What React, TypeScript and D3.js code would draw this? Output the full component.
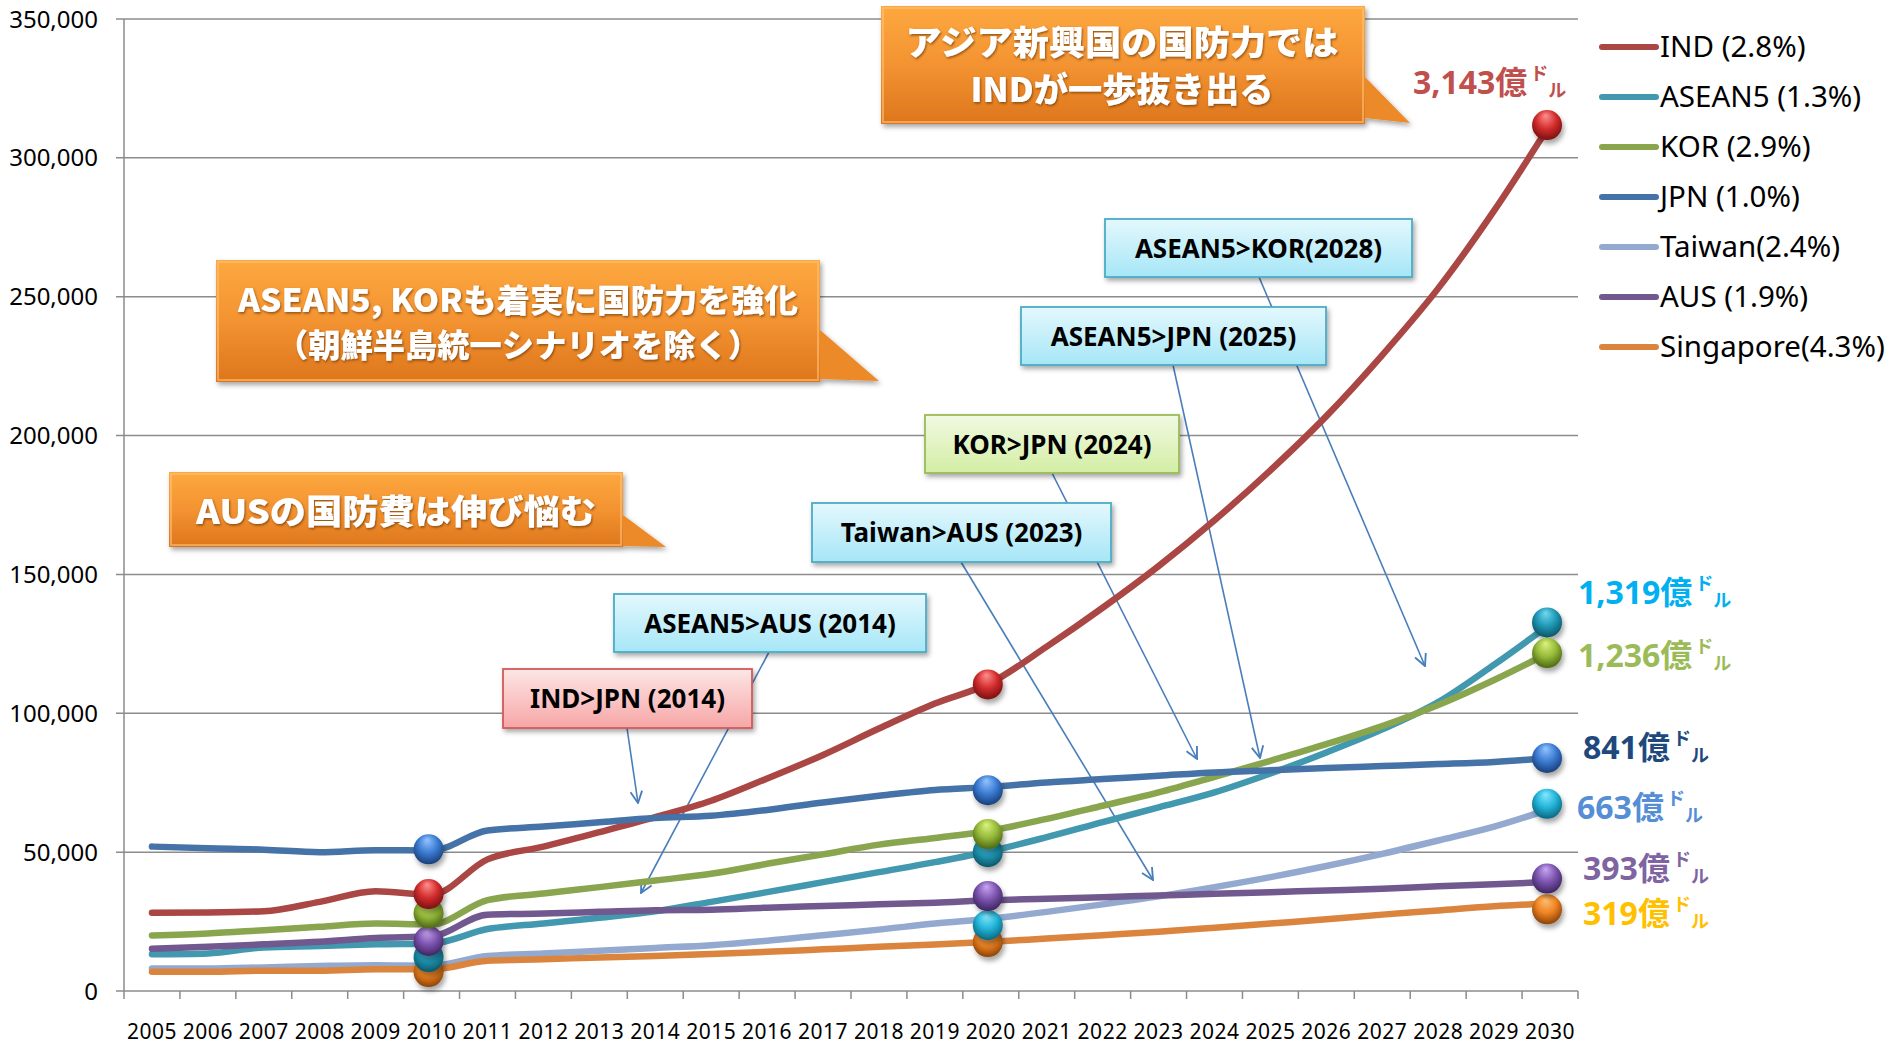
import React from 'react';
import * as d3 from 'd3';

// categories
const years = [
  '2005', '2006', '2007', '2008', '2009', '2010', '2011', '2012', '2013',
  '2014', '2015', '2016', '2017', '2018', '2019', '2020', '2021', '2022',
  '2023', '2024', '2025', '2026', '2027', '2028', '2029', '2030',
];

// defence spending, million USD
const ind = [28200, 28300, 28700, 32100, 35900, 34700, 47400, 52000, 57200, 62600, 68500, 76500, 85000, 94500, 103500, 111000, 124000, 138000, 153000, 169500, 187500, 207000, 229000, 253000, 281000, 312000];
const asean5 = [13200, 13500, 15700, 16200, 16800, 17100, 22300, 24300, 26400, 28700, 32100, 35600, 39200, 42800, 46400, 50400, 55400, 60800, 66100, 71500, 78300, 85900, 94200, 104000, 117500, 132000];
const kor = [20000, 20700, 21900, 23100, 24300, 24000, 32700, 35100, 37400, 39800, 42200, 45800, 49200, 52700, 55100, 57800, 62000, 66700, 71500, 77100, 82900, 88900, 95400, 103000, 112000, 122000];
const jpn = [52000, 51400, 50900, 50000, 50700, 50600, 57800, 59200, 60800, 62300, 63100, 65200, 67900, 70300, 72400, 73500, 75100, 76300, 77500, 78700, 79500, 80300, 81000, 81700, 82500, 83900];
const taiwan = [8100, 8100, 8500, 9000, 9300, 9100, 12600, 13500, 14500, 15500, 16500, 18100, 20100, 22100, 24300, 26100, 28500, 31200, 34100, 37400, 41000, 45000, 49400, 54200, 59200, 65500];
const aus = [15200, 15900, 16800, 17700, 19100, 19700, 27500, 27900, 28500, 29100, 29300, 30000, 30600, 31200, 31800, 32700, 33200, 33800, 34400, 35000, 35600, 36200, 36800, 37700, 38400, 39300];
const singapore = [6900, 6900, 7300, 7300, 7800, 7800, 10900, 11400, 12100, 12600, 13300, 14100, 15000, 15900, 16700, 17700, 18900, 20100, 21300, 22800, 24300, 25800, 27500, 29000, 30500, 31500];

// sphere markers (2010, 2020, 2030)
const markerYears = ['2010', '2020', '2030'];
const indMarks = [34900, 110400, 311800];
const asean5Marks = [12200, 50000, 132700];
const korMarks = [28000, 56500, 121700];
const jpnMarks = [51000, 72300, 83900];
const taiwanMarks = [null, 23700, 67400];
const ausMarks = [18000, 34200, 40500];
const singaporeMarks = [6800, 17600, 29400];

const legendLabels = ['IND (2.8%)', 'ASEAN5 (1.3%)', 'KOR (2.9%)', 'JPN (1.0%)', 'Taiwan(2.4%)', 'AUS (1.9%)', 'Singapore(4.3%)'];
const yTicks = [0, 50000, 100000, 150000, 200000, 250000, 300000, 350000];

const series = [
  { key: 'ind', values: ind, marks: indMarks, color: '#AA4643', ball: ['#ff9090', '#d32d2d', '#7a1010'] },
  { key: 'asean5', values: asean5, marks: asean5Marks, color: '#4198AF', ball: ['#74d8ef', '#1f98b6', '#0d5566'] },
  { key: 'kor', values: kor, marks: korMarks, color: '#89A54E', ball: ['#dcf27e', '#95ba3a', '#4d6814'] },
  { key: 'jpn', values: jpn, marks: jpnMarks, color: '#4572A7', ball: ['#94c4ff', '#3a7bd2', '#1a3e78'] },
  { key: 'taiwan', values: taiwan, marks: taiwanMarks, color: '#93A9CF', ball: ['#86e8ff', '#22b4d8', '#0c6780'] },
  { key: 'aus', values: aus, marks: ausMarks, color: '#71588F', ball: ['#c9a6f2', '#7b53ae', '#3e2560'] },
  { key: 'sgp', values: singapore, marks: singaporeMarks, color: '#DB843D', ball: ['#ffc275', '#ef8322', '#8a4208'] },
];
// sphere stacking order (bottom first)
const markerOrder = ['sgp', 'taiwan', 'asean5', 'aus', 'kor', 'jpn', 'ind'];

// value labels at the right end
const endLabels = [
  { text: '3,143億', color: '#C0504D', x: 1413, y: 94 },
  { text: '1,319億', color: '#00B0F0', x: 1578, y: 604 },
  { text: '1,236億', color: '#9BBB59', x: 1578, y: 667 },
  { text: '841億', color: '#1F497D', x: 1583, y: 759 },
  { text: '663億', color: '#558ED5', x: 1577, y: 819 },
  { text: '393億', color: '#8064A2', x: 1583, y: 880 },
  { text: '319億', color: '#FFC000', x: 1583, y: 925 },
];

// crossing notes
const notes = [
  { text: 'ASEAN5>KOR(2028)', kind: 'blue', box: [1105, 219, 307, 58], from: [1259, 277], to: [1425, 666] },
  { text: 'ASEAN5>JPN (2025)', kind: 'blue', box: [1021, 307, 305, 58], from: [1173, 365], to: [1260, 758] },
  { text: 'KOR>JPN (2024)', kind: 'green', box: [925, 415, 254, 58], from: [1052, 473], to: [1197, 759] },
  { text: 'Taiwan>AUS (2023)', kind: 'blue', box: [812, 503, 299, 59], from: [961, 562], to: [1153, 880] },
  { text: 'ASEAN5>AUS (2014)', kind: 'blue', box: [614, 594, 312, 58], from: [769, 652], to: [641, 893] },
  { text: 'IND>JPN (2014)', kind: 'pink', box: [503, 669, 249, 59], from: [627, 728], to: [638, 803] },
];
const noteFill = { blue: ['#e4f8fd', '#a6e6f7', '#4BACC6'], green: ['#f0f9e2', '#d3eea4', '#9BBB59'], pink: ['#fde6e6', '#f7a6a6', '#D05A5A'] };

// orange callouts
const callouts = [
  { lines: ['アジア新興国の国防力では', 'INDが一歩抜き出る'], widths: [433, 303], box: [881, 6, 484, 118], tail: [[1365, 77], [1410, 123], [1365, 118]], cx: 1122, ys: [55, 102], size: 34 },
  { lines: ['ASEAN5, KORも着実に国防力を強化', '（朝鮮半島統一シナリオを除く）'], widths: [560, 484], box: [216, 260, 604, 122], tail: [[820, 330], [879, 381], [820, 379]], cx: 518, ys: [312, 357], size: 32 },
  { lines: ['AUSの国防費は伸び悩む'], widths: [400], box: [169, 472, 454, 75], tail: [[623, 515], [666, 547], [623, 546]], cx: 396, ys: [524], size: 34 },
];

const W = 1893;
const H = 1047;
const left = 124;
const right = 1578;
const top = 19;
const bottom = 991;
const FONT = '"Noto Sans", "Noto Sans CJK JP", sans-serif';
const CJK = '"Noto Sans CJK JP", "Noto Sans", sans-serif';

const App = () => {
  const x = d3.scaleBand().domain(years).range([left, right]);
  const y = d3.scaleLinear().domain([0, 350000]).range([bottom, top]);
  const cx = (yr: string) => (x(yr) as number) + x.bandwidth() / 2;

  const line = d3
    .line<number>()
    .x((_, i) => cx(years[i]))
    .y((d) => y(d))
    .curve(d3.curveMonotoneX);

  const fmt = d3.format(',');

  return (
    <svg width={W} height={H} style={{ position: 'absolute', left: 0, top: 0, background: '#fff' }}>
      <defs>
        {series.map((s) => (
          <radialGradient key={s.key} id={`ball-${s.key}`} cx="50%" cy="40%" r="60%" fx="45%" fy="18%">
            <stop offset="0%" stopColor={s.ball[0]} />
            <stop offset="55%" stopColor={s.ball[1]} />
            <stop offset="100%" stopColor={s.ball[2]} />
          </radialGradient>
        ))}
        <linearGradient id="orange" x1="0" y1="0" x2="0" y2="1">
          <stop offset="0%" stopColor="#fda83f" />
          <stop offset="50%" stopColor="#f39331" />
          <stop offset="100%" stopColor="#dd761c" />
        </linearGradient>
        {Object.entries(noteFill).map(([k, c]) => (
          <linearGradient key={k} id={`note-${k}`} x1="0" y1="0" x2="0" y2="1">
            <stop offset="0%" stopColor={c[0]} />
            <stop offset="100%" stopColor={c[1]} />
          </linearGradient>
        ))}
        <filter id="shadow" x="-10%" y="-10%" width="130%" height="140%">
          <feDropShadow dx="2" dy="3" stdDeviation="2.5" floodColor="#000" floodOpacity="0.35" />
        </filter>
        <filter id="ballShadow" x="-50%" y="-50%" width="200%" height="200%">
          <feDropShadow dx="2" dy="4" stdDeviation="2.5" floodColor="#000" floodOpacity="0.35" />
        </filter>
        <filter id="textShadow" x="-5%" y="-20%" width="110%" height="150%">
          <feDropShadow dx="1" dy="1.5" stdDeviation="1" floodColor="#6b3000" floodOpacity="0.7" />
        </filter>
        <marker id="arrow" viewBox="0 0 12 12" refX="11" refY="6" markerWidth="14" markerHeight="14" markerUnits="userSpaceOnUse" orient="auto">
          <path d="M1,1 L11,6 L1,11" fill="none" stroke="#4A7EBB" strokeWidth="1.6" />
        </marker>
      </defs>

      {/* grid + y axis */}
      <g>
        {yTicks.map((t) => (
          <g key={t}>
            <line x1={left - 8} x2={right} y1={y(t)} y2={y(t)} stroke="#8C8C8C" strokeWidth={1.5} />
            <text x={98} y={y(t) + 8.5} textAnchor="end" fontFamily={FONT} fontSize={24} fill="#000">
              {fmt(t)}
            </text>
          </g>
        ))}
        <line x1={left} x2={left} y1={top} y2={bottom} stroke="#8C8C8C" strokeWidth={1.5} />
      </g>

      {/* x axis */}
      <g>
        {years.map((yr) => (
          <g key={yr}>
            <line x1={x(yr)} x2={x(yr)} y1={bottom} y2={bottom + 8} stroke="#8C8C8C" strokeWidth={1.5} />
            <text x={cx(yr)} y={1039} textAnchor="middle" fontFamily={FONT} fontSize={21} letterSpacing={0.5} fill="#000">
              {yr}
            </text>
          </g>
        ))}
        <line x1={right} x2={right} y1={bottom} y2={bottom + 8} stroke="#8C8C8C" strokeWidth={1.5} />
      </g>

      {/* orange callouts */}
      {callouts.map((c, i) => (
        <g key={i}>
          <g filter="url(#shadow)">
            <rect x={c.box[0]} y={c.box[1]} width={c.box[2]} height={c.box[3]} fill="url(#orange)" />
            <polygon points={c.tail.map((p) => p.join(',')).join(' ')} fill="#ec8a2a" />
          </g>
          <rect x={c.box[0] + 2} y={c.box[1] + 2} width={c.box[2] - 4} height={c.box[3] - 4} fill="none" stroke="#ffc27a" strokeOpacity={0.6} strokeWidth={2} />
          {c.lines.map((t, j) => (
            <text key={j} x={c.cx} y={c.ys[j]} textAnchor="middle" fontFamily={CJK} fontWeight={900} fontSize={c.size}
              fill="#fff" textLength={c.widths[j]} lengthAdjust="spacingAndGlyphs" filter="url(#textShadow)">
              {t}
            </text>
          ))}
        </g>
      ))}

      {/* arrows (behind the notes) */}
      {notes.map((n) => (
        <line key={n.text} x1={n.from[0]} y1={n.from[1]} x2={n.to[0]} y2={n.to[1]} stroke="#4A7EBB" strokeWidth={1.6} markerEnd="url(#arrow)" />
      ))}

      {/* series lines */}
      {series.map((s) => (
        <path key={s.key} d={line(s.values) as string} fill="none" stroke={s.color} strokeWidth={6.5} strokeLinejoin="round" strokeLinecap="round" />
      ))}

      {/* notes */}
      {notes.map((n) => {
        const c = noteFill[n.kind as keyof typeof noteFill];
        return (
          <g key={n.text}>
            <rect x={n.box[0]} y={n.box[1]} width={n.box[2]} height={n.box[3]} fill={`url(#note-${n.kind})`} stroke={c[2]} strokeWidth={1.8} filter="url(#shadow)" />
            <text x={n.box[0] + n.box[2] / 2} y={n.box[1] + n.box[3] / 2 + 9.5} textAnchor="middle" fontFamily={FONT} fontWeight={700} fontSize={26} fill="#000">
              {n.text}
            </text>
          </g>
        );
      })}

      {/* sphere markers */}
      {markerOrder.map((k) => {
        const s = series.find((d) => d.key === k)!;
        return (
          <g key={k}>
            {s.marks.map((v, i) =>
              v == null ? null : (
                <circle key={i} cx={cx(markerYears[i]) - 3} cy={y(v)} r={15} fill={`url(#ball-${k})`} filter="url(#ballShadow)" />
              )
            )}
          </g>
        );
      })}

      {/* end value labels */}
      {endLabels.map((l) => (
        <text key={l.text} x={l.x} y={l.y} fontFamily={FONT} fontWeight={700} fontSize={32} fill={l.color}>
          <tspan>{l.text}</tspan>
          <tspan fontSize={18} dx={3} dy={-14}>ド</tspan>
          <tspan fontSize={18} dy={17}>ル</tspan>
        </text>
      ))}

      {/* legend */}
      {series.map((s, i) => (
        <g key={s.key} transform={`translate(1600, ${47 + i * 50})`}>
          <line x1={2} x2={56} y1={0} y2={0} stroke={s.color} strokeWidth={6} strokeLinecap="round" />
          <text x={60} y={10} fontFamily={FONT} fontSize={29.5} fill="#000">
            {legendLabels[i]}
          </text>
        </g>
      ))}
    </svg>
  );
};

export default App;
